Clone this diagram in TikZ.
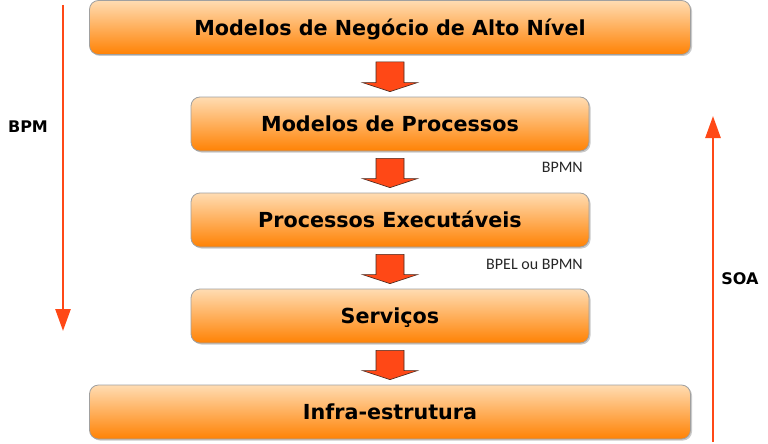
\documentclass[tikz,border=0pt]{standalone}
\usepackage{fontspec}
\setmainfont{DejaVu Sans}
\newfontfamily\calib{Carlito}
\usetikzlibrary{calc,arrows.meta,shadows}
\definecolor{boxtop}{RGB}{255,220,178}
\definecolor{boxbot}{RGB}{255,130,4}
\definecolor{boxedge}{RGB}{160,160,160}
\definecolor{redor}{RGB}{255,72,22}
\definecolor{arredge}{RGB}{70,40,30}
\begin{document}
\begin{tikzpicture}[x=1pt,y=-1pt,
  layer/.style={rounded corners=9pt, draw=boxedge, line width=0.8pt,
    top color=boxtop, bottom color=boxbot, minimum height=54pt,
    font=\fontsize{20.7}{24}\selectfont\bfseries, text=black,
    text depth=1pt,
    drop shadow={shadow xshift=1.5pt,shadow yshift=-1.5pt,opacity=0.35,fill=black!60}},
  wide/.style={layer, minimum width=601pt},
  narrow/.style={layer, minimum width=398pt},
  side/.style={font=\fontsize{16}{18}\selectfont\bfseries, text=black},
  small/.style={font=\calib\fontsize{16}{18}\selectfont, text=black!85, anchor=east, inner sep=0pt},
  bigline/.style={draw=redor, line width=2.6pt, -{Triangle[length=22pt,width=15pt]}}
]
\useasboundingbox (0,0) rectangle (768,444);
\node[wide]   (b1) at (390,27.5)  {Modelos de Negócio de Alto Nível};
\node[narrow] (b2) at (390,124)   {Modelos de Processos};
\node[narrow] (b3) at (390,220)   {Processos Executáveis};
\node[narrow] (b4) at (390,316)   {Serviços};
\node[wide]   (b5) at (390,412)   {Infra-estrutura};
\newcommand\blockarr[2]{%
  \filldraw[fill=redor, draw=arredge, line width=0.6pt, line join=miter]
    ($(#1.south)+(-14,7)$) -- ($(#1.south)+(14,7)$) --
    ($(#2.north)+(14,-14)$) -- ($(#2.north)+(27.5,-14)$) --
    ($(#2.north)+(0,-5)$) -- ($(#2.north)+(-27.5,-14)$) --
    ($(#2.north)+(-14,-14)$) -- cycle;}
\blockarr{b1}{b2}
\blockarr{b2}{b3}
\blockarr{b3}{b4}
\blockarr{b4}{b5}
\node[small] (l1) at (583,167) {BPMN};
\node[small] (l2) at (583,264) {BPEL ou BPMN};
\coordinate (bpmtop) at (63,5);
\coordinate (bpmend) at (63,331);
\coordinate (soabot) at (713,442);
\coordinate (soatop) at (713,116);
\draw[bigline] (bpmtop) -- (bpmend);
\draw[bigline] (soabot) -- (soatop);
\node[side] (bpm) at (28,127) {BPM};
\node[side] (soa) at (740,279) {SOA};
\end{tikzpicture}
\end{document}
